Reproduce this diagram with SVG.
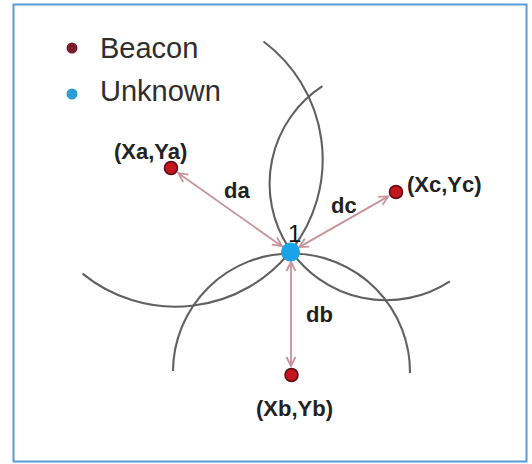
<svg xmlns="http://www.w3.org/2000/svg" width="532" height="464" viewBox="0 0 532 464">
<style>
.arc{fill:none;stroke:#606060;stroke-width:2.1}
.dist{fill:none;stroke:#c8929a;stroke-width:1.8;marker-start:url(#ah);marker-end:url(#ah)}
.lbl{font-family:"Liberation Sans",Arial,sans-serif;font-weight:bold;font-size:22px;fill:#222}
.leg{font-family:"Liberation Sans",Arial,sans-serif;font-size:29px;fill:#2e2e2e}
.beacon{fill:#c4161f;stroke:#5a0c12;stroke-width:1.5}
</style>
<defs>
<marker id="ah" markerUnits="userSpaceOnUse" markerWidth="12" markerHeight="12" refX="10" refY="5" orient="auto-start-reverse" viewBox="0 0 12 10">
<path d="M1,0.5 L10,5 L1,9.5" fill="none" stroke="#c8929a" stroke-width="1.8"/>
</marker>
</defs>
<rect x="0" y="0" width="532" height="464" fill="#ffffff"/>
<rect x="13.5" y="4.5" width="513" height="457" fill="none" stroke="#5b9bd5" stroke-width="2"/>
<g id="legend">
<circle cx="72" cy="48" r="5.5" fill="#7a1e2c"/>
<text class="leg" x="100" y="58">Beacon</text>
<circle cx="72" cy="94" r="5.5" fill="#2b9fd3"/>
<text class="leg" x="100" y="101">Unknown</text>
</g>
<g id="circles">
<path class="arc" d="M263.5,41.5 A147.2,147.2 0 1 1 82.5,273.6"/>
<path class="arc" d="M322.4,86.2 A116.5,116.5 0 1 0 449.8,281.3"/>
<path class="arc" d="M173,370.9 A118.5,118.5 0 1 1 410,373"/>
</g>
<g id="connectors">
<line class="dist" x1="281.8" y1="246.2" x2="178.4" y2="173.2"/>
<line class="dist" x1="299.2" y1="247.1" x2="388.2" y2="196.4"/>
<line class="dist" x1="291" y1="262" x2="291" y2="366"/>
</g>
<g id="beaconA">
<circle class="beacon" cx="171" cy="168" r="6.5"/>
<text class="lbl" x="114" y="159">(Xa,Ya)</text>
</g>
<g id="beaconC">
<circle class="beacon" cx="396" cy="192" r="6.5"/>
<text class="lbl" x="407" y="192">(Xc,Yc)</text>
</g>
<g id="beaconB">
<circle class="beacon" cx="291.5" cy="375" r="6.5"/>
<text class="lbl" x="256" y="416">(Xb,Yb)</text>
</g>
<g id="unknown">
<circle cx="290.5" cy="252" r="9.5" fill="#1aa3e6"/>
<text x="288" y="242" font-family="'Liberation Sans',Arial,sans-serif" font-size="24" fill="#111">1</text>
</g>
<g id="labels">
<text class="lbl" x="224" y="198">da</text>
<text class="lbl" x="331" y="213">dc</text>
<text class="lbl" x="306" y="322">db</text>
</g>
</svg>
